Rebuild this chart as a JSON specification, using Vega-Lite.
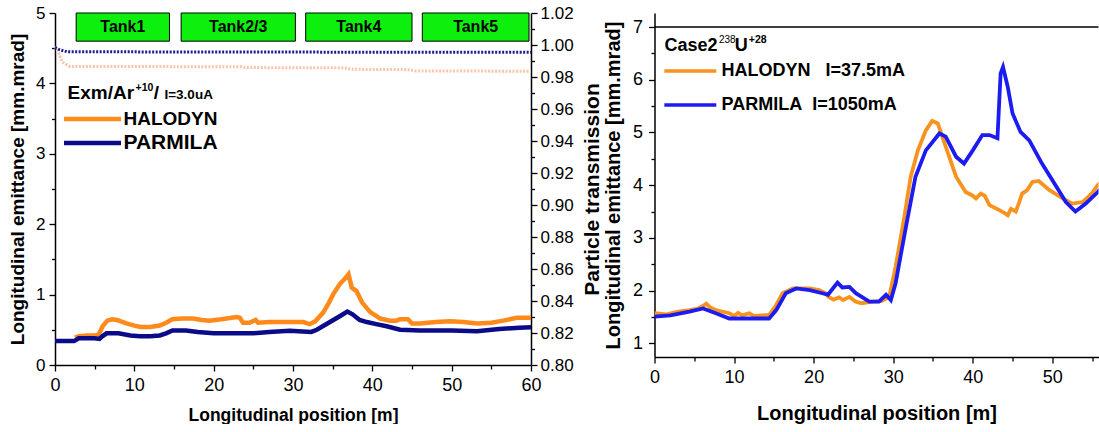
{
  "$schema": "https://vega.github.io/schema/vega-lite/v6.json",
  "background": "white",
  "padding": {"left": 8, "top": 4, "right": 0, "bottom": 0},
  "bounds": "flush",
  "spacing": 123.5,
  "config": {
    "view": {"stroke": null},
    "font": "Liberation Sans",
    "axis": {
      "grid": false, "domainColor": "black", "domainWidth": 1.5, "tickColor": "black", "tickWidth": 1.3,
      "labelColor": "black", "labelFont": "Liberation Sans", "labelFontSize": 17, "labelFlush": false, "labelOverlap": false,
      "titleFont": "Liberation Sans", "titleFontWeight": "bold", "titleColor": "black"
    },
    "text": {"font": "Liberation Sans", "fontWeight": "bold", "color": "black", "align": "left", "baseline": "alphabetic"}
  },
  "resolve": {"scale": {"color": "independent"}, "legend": {"color": "independent"}},
  "hconcat": [
    {
      "width": 476,
      "height": 352,
      "resolve": {"scale": {"y": "independent"}, "axis": {"x": "independent"}},
      "layer": [
        {
          "data": {"values": [
            {"code": "HALODYN", "pos": 0, "trans": 0.999}, {"code": "HALODYN", "pos": 0.4, "trans": 0.996}, {"code": "HALODYN", "pos": 0.9, "trans": 0.9895}, {"code": "HALODYN", "pos": 1.8, "trans": 0.9866}, {"code": "HALODYN", "pos": 23.5, "trans": 0.9864}, {"code": "HALODYN", "pos": 24.0, "trans": 0.9859}, {"code": "HALODYN", "pos": 36.5, "trans": 0.9857}, {"code": "HALODYN", "pos": 37.5, "trans": 0.9848}, {"code": "HALODYN", "pos": 44.5, "trans": 0.9846}, {"code": "HALODYN", "pos": 45.5, "trans": 0.9838}, {"code": "HALODYN", "pos": 60, "trans": 0.9836},
            {"code": "PARMILA", "pos": 0, "trans": 0.9985}, {"code": "PARMILA", "pos": 0.6, "trans": 0.997}, {"code": "PARMILA", "pos": 1.5, "trans": 0.9958}, {"code": "PARMILA", "pos": 20, "trans": 0.9956}, {"code": "PARMILA", "pos": 45, "trans": 0.9955}, {"code": "PARMILA", "pos": 60, "trans": 0.9954}
          ]},
          "mark": {"type": "line", "strokeWidth": 3, "strokeDash": [2, 1.5]},
          "encoding": {
            "x": {"field": "pos", "type": "quantitative", "scale": {"domain": [0, 60], "nice": false}, "axis": null},
            "y": {"field": "trans", "type": "quantitative", "scale": {"domain": [0.8, 1.02], "nice": false, "zero": false},
              "axis": {"orient": "right", "values": [0.8, 0.82, 0.84, 0.86, 0.88, 0.9, 0.92, 0.94, 0.96, 0.98, 1.0, 1.02], "format": ".2f", "tickSize": 6, "labelPadding": 3, "title": "Particle transmission", "titleFontSize": 21, "titleAngle": 270, "titleBaseline": "top", "titlePadding": 8}},
            "stroke": {"field": "code", "type": "nominal", "scale": {"domain": ["HALODYN", "PARMILA"], "range": ["#F9C4AA", "#1C1C8E"]}, "legend": null}
          }
        },
        {
          "data": {"values": [{}]},
          "mark": {"type": "point", "opacity": 0},
          "encoding": {
            "y": {"datum": 0.9, "type": "quantitative", "scale": {"domain": [0.8, 1.02], "nice": false, "zero": false},
              "axis": {"orient": "right", "values": [0.81, 0.83, 0.85, 0.87, 0.89, 0.91, 0.93, 0.95, 0.97, 0.99, 1.01], "labels": false, "domain": false, "title": null, "tickSize": 3.5}}
          }
        },
        {
          "data": {"values": [
            {"code": "HALODYN", "pos": 2.5, "emit": 0.39}, {"code": "HALODYN", "pos": 3.0, "emit": 0.41}, {"code": "HALODYN", "pos": 4.0, "emit": 0.42}, {"code": "HALODYN", "pos": 5.0, "emit": 0.42}, {"code": "HALODYN", "pos": 5.5, "emit": 0.43}, {"code": "HALODYN", "pos": 6.0, "emit": 0.55}, {"code": "HALODYN", "pos": 6.6, "emit": 0.63}, {"code": "HALODYN", "pos": 7.2, "emit": 0.65}, {"code": "HALODYN", "pos": 7.8, "emit": 0.64}, {"code": "HALODYN", "pos": 9.0, "emit": 0.59}, {"code": "HALODYN", "pos": 10.0, "emit": 0.56}, {"code": "HALODYN", "pos": 10.8, "emit": 0.54}, {"code": "HALODYN", "pos": 12.0, "emit": 0.54}, {"code": "HALODYN", "pos": 13.2, "emit": 0.56}, {"code": "HALODYN", "pos": 14.0, "emit": 0.6}, {"code": "HALODYN", "pos": 14.8, "emit": 0.65}, {"code": "HALODYN", "pos": 16.0, "emit": 0.66}, {"code": "HALODYN", "pos": 17.4, "emit": 0.66}, {"code": "HALODYN", "pos": 18.5, "emit": 0.64}, {"code": "HALODYN", "pos": 19.5, "emit": 0.63}, {"code": "HALODYN", "pos": 21.0, "emit": 0.65}, {"code": "HALODYN", "pos": 22.9, "emit": 0.68}, {"code": "HALODYN", "pos": 23.3, "emit": 0.67}, {"code": "HALODYN", "pos": 23.7, "emit": 0.6}, {"code": "HALODYN", "pos": 24.5, "emit": 0.6}, {"code": "HALODYN", "pos": 25.3, "emit": 0.64}, {"code": "HALODYN", "pos": 25.6, "emit": 0.6}, {"code": "HALODYN", "pos": 27.0, "emit": 0.61}, {"code": "HALODYN", "pos": 29.0, "emit": 0.61}, {"code": "HALODYN", "pos": 31.3, "emit": 0.61}, {"code": "HALODYN", "pos": 32.1, "emit": 0.58}, {"code": "HALODYN", "pos": 32.8, "emit": 0.62}, {"code": "HALODYN", "pos": 33.8, "emit": 0.745}, {"code": "HALODYN", "pos": 34.5, "emit": 0.88}, {"code": "HALODYN", "pos": 35.1, "emit": 1.01}, {"code": "HALODYN", "pos": 35.9, "emit": 1.15}, {"code": "HALODYN", "pos": 36.5, "emit": 1.22}, {"code": "HALODYN", "pos": 37.0, "emit": 1.29}, {"code": "HALODYN", "pos": 37.4, "emit": 1.1}, {"code": "HALODYN", "pos": 38.0, "emit": 1.05}, {"code": "HALODYN", "pos": 38.7, "emit": 0.89}, {"code": "HALODYN", "pos": 39.7, "emit": 0.755}, {"code": "HALODYN", "pos": 41.0, "emit": 0.66}, {"code": "HALODYN", "pos": 42.2, "emit": 0.63}, {"code": "HALODYN", "pos": 43.0, "emit": 0.63}, {"code": "HALODYN", "pos": 43.5, "emit": 0.65}, {"code": "HALODYN", "pos": 44.5, "emit": 0.65}, {"code": "HALODYN", "pos": 45.0, "emit": 0.59}, {"code": "HALODYN", "pos": 46.0, "emit": 0.59}, {"code": "HALODYN", "pos": 48.0, "emit": 0.61}, {"code": "HALODYN", "pos": 49.8, "emit": 0.62}, {"code": "HALODYN", "pos": 51.5, "emit": 0.61}, {"code": "HALODYN", "pos": 53.2, "emit": 0.59}, {"code": "HALODYN", "pos": 55.0, "emit": 0.6}, {"code": "HALODYN", "pos": 56.5, "emit": 0.63}, {"code": "HALODYN", "pos": 58.2, "emit": 0.67}, {"code": "HALODYN", "pos": 60.0, "emit": 0.67},
            {"code": "PARMILA", "pos": 0, "emit": 0.34}, {"code": "PARMILA", "pos": 2.4, "emit": 0.34}, {"code": "PARMILA", "pos": 3.0, "emit": 0.38}, {"code": "PARMILA", "pos": 5.0, "emit": 0.38}, {"code": "PARMILA", "pos": 5.6, "emit": 0.37}, {"code": "PARMILA", "pos": 6.0, "emit": 0.41}, {"code": "PARMILA", "pos": 6.5, "emit": 0.45}, {"code": "PARMILA", "pos": 8.0, "emit": 0.45}, {"code": "PARMILA", "pos": 9.5, "emit": 0.42}, {"code": "PARMILA", "pos": 10.7, "emit": 0.41}, {"code": "PARMILA", "pos": 12.0, "emit": 0.41}, {"code": "PARMILA", "pos": 13.2, "emit": 0.42}, {"code": "PARMILA", "pos": 14.0, "emit": 0.45}, {"code": "PARMILA", "pos": 14.8, "emit": 0.49}, {"code": "PARMILA", "pos": 16.5, "emit": 0.49}, {"code": "PARMILA", "pos": 18.0, "emit": 0.47}, {"code": "PARMILA", "pos": 20.0, "emit": 0.45}, {"code": "PARMILA", "pos": 22.0, "emit": 0.45}, {"code": "PARMILA", "pos": 25.0, "emit": 0.45}, {"code": "PARMILA", "pos": 27.0, "emit": 0.47}, {"code": "PARMILA", "pos": 29.6, "emit": 0.485}, {"code": "PARMILA", "pos": 32.3, "emit": 0.47}, {"code": "PARMILA", "pos": 33.0, "emit": 0.5}, {"code": "PARMILA", "pos": 34.5, "emit": 0.6}, {"code": "PARMILA", "pos": 36.0, "emit": 0.7}, {"code": "PARMILA", "pos": 36.85, "emit": 0.76}, {"code": "PARMILA", "pos": 37.5, "emit": 0.72}, {"code": "PARMILA", "pos": 38.4, "emit": 0.64}, {"code": "PARMILA", "pos": 39.3, "emit": 0.61}, {"code": "PARMILA", "pos": 40.5, "emit": 0.58}, {"code": "PARMILA", "pos": 41.8, "emit": 0.55}, {"code": "PARMILA", "pos": 43.5, "emit": 0.5}, {"code": "PARMILA", "pos": 46.0, "emit": 0.49}, {"code": "PARMILA", "pos": 50.0, "emit": 0.49}, {"code": "PARMILA", "pos": 53.2, "emit": 0.48}, {"code": "PARMILA", "pos": 56.0, "emit": 0.51}, {"code": "PARMILA", "pos": 58.5, "emit": 0.53}, {"code": "PARMILA", "pos": 60.0, "emit": 0.535}
          ]},
          "mark": {"type": "line", "strokeWidth": 4.5},
          "encoding": {
            "x": {"field": "pos", "type": "quantitative", "scale": {"domain": [0, 60], "nice": false},
              "axis": {"values": [0, 10, 20, 30, 40, 50, 60], "tickSize": 6, "labelPadding": 5, "labelFontSize": 18, "title": "Longitudinal position [m]", "titleFontSize": 17.5, "titlePadding": 12}},
            "y": {"field": "emit", "type": "quantitative", "scale": {"domain": [0, 5], "nice": false, "zero": false},
              "axis": {"orient": "left", "values": [0, 1, 2, 3, 4, 5], "tickSize": 6, "labelPadding": 4, "title": "Longitudinal emittance [mm.mrad]", "titleFontSize": 19, "titlePadding": 8}},
            "color": {"field": "code", "type": "nominal", "scale": {"domain": ["HALODYN", "PARMILA"], "range": ["#FF8A1C", "#0B0B8A"]},
              "legend": {"orient": "none", "legendX": 6.5, "legendY": 94, "title": null, "padding": 0, "symbolType": "M-1,0H5", "symbolSize": 361, "symbolStrokeWidth": 4.5, "labelOffset": 38, "labelFont": "Liberation Sans", "labelFontWeight": "bold", "labelFontSize": {"expr": "datum.value === 'PARMILA' ? 21 : 19"}, "labelColor": "black", "rowPadding": 2, "labelLimit": 400}}
          }
        },
        {
          "data": {"values": [{}]},
          "mark": {"type": "point", "opacity": 0},
          "encoding": {
            "x": {"datum": 0, "type": "quantitative", "scale": {"domain": [0, 60], "nice": false},
              "axis": {"orient": "bottom", "values": [5, 15, 25, 35, 45, 55], "labels": false, "domain": false, "title": null, "tickSize": 4}},
            "y": {"datum": 0, "type": "quantitative", "scale": {"domain": [0, 5], "nice": false, "zero": false},
              "axis": {"orient": "left", "values": [0.5, 1.5, 2.5, 3.5, 4.5], "labels": false, "domain": false, "title": null, "tickSize": 3.5}}
          }
        },
        {
          "data": {"values": [
            {"tank": "Tank1", "start": 2.67, "end": 14.43},
            {"tank": "Tank2/3", "start": 15.9, "end": 30.3},
            {"tank": "Tank4", "start": 31.6, "end": 45.0},
            {"tank": "Tank5", "start": 46.3, "end": 59.75}
          ]},
          "mark": {"type": "rect", "fill": "#0DF00D", "stroke": "black", "strokeWidth": 1},
          "encoding": {
            "x": {"field": "start", "type": "quantitative", "scale": {"domain": [0, 60], "nice": false}, "axis": null},
            "x2": {"field": "end"},
            "y": {"datum": 4.6, "type": "quantitative", "scale": {"domain": [0, 5], "nice": false, "zero": false}, "axis": null},
            "y2": {"datum": 5.0}
          }
        },
        {
          "data": {"values": [
            {"tank": "Tank1", "start": 2.67, "end": 14.43},
            {"tank": "Tank2/3", "start": 15.9, "end": 30.3},
            {"tank": "Tank4", "start": 31.6, "end": 45.0},
            {"tank": "Tank5", "start": 46.3, "end": 59.75}
          ]},
          "transform": [{"calculate": "(datum.start + datum.end) / 2", "as": "mid"}],
          "mark": {"type": "text", "fontSize": 16, "align": "center", "baseline": "middle"},
          "encoding": {
            "x": {"field": "mid", "type": "quantitative", "scale": {"domain": [0, 60], "nice": false}, "axis": null},
            "y": {"datum": 4.8, "type": "quantitative", "scale": {"domain": [0, 5], "nice": false, "zero": false}, "axis": null},
            "text": {"field": "tank"}
          }
        },
        {
          "data": {"values": [{}]},
          "mark": {"type": "text", "text": "Exm/Ar", "fontSize": 19},
          "encoding": {
            "x": {"datum": 1.58, "type": "quantitative", "scale": {"domain": [0, 60], "nice": false}, "axis": null},
            "y": {"datum": 3.78, "type": "quantitative", "scale": {"domain": [0, 5], "nice": false, "zero": false}, "axis": null}
          }
        },
        {
          "data": {"values": [{}]},
          "mark": {"type": "text", "text": "+10", "fontSize": 10.5, "dy": -8},
          "encoding": {
            "x": {"datum": 10.15, "type": "quantitative", "scale": {"domain": [0, 60], "nice": false}, "axis": null},
            "y": {"datum": 3.78, "type": "quantitative", "scale": {"domain": [0, 5], "nice": false, "zero": false}, "axis": null}
          }
        },
        {
          "data": {"values": [{}]},
          "mark": {"type": "text", "text": "/", "fontSize": 19},
          "encoding": {
            "x": {"datum": 12.45, "type": "quantitative", "scale": {"domain": [0, 60], "nice": false}, "axis": null},
            "y": {"datum": 3.78, "type": "quantitative", "scale": {"domain": [0, 5], "nice": false, "zero": false}, "axis": null}
          }
        },
        {
          "data": {"values": [{}]},
          "mark": {"type": "text", "text": "I=3.0uA", "fontSize": 13.5},
          "encoding": {
            "x": {"datum": 13.8, "type": "quantitative", "scale": {"domain": [0, 60], "nice": false}, "axis": null},
            "y": {"datum": 3.78, "type": "quantitative", "scale": {"domain": [0, 5], "nice": false, "zero": false}, "axis": null}
          }
        }
      ]
    },
    {
      "width": 444,
      "height": 344,
      "resolve": {"axis": {"x": "independent", "y": "independent"}},
      "layer": [
        {
          "data": {"values": [{}]},
          "mark": {"type": "rule", "color": "black", "strokeWidth": 1.5},
          "encoding": {
            "y": {"datum": 7, "type": "quantitative", "scale": {"domain": [0.74, 7.266], "nice": false, "zero": false}, "axis": null}
          }
        },
        {
          "data": {"values": [
            {"code": "HALODYN", "pos": 0, "emit": 1.57}, {"code": "HALODYN", "pos": 1.5, "emit": 1.55}, {"code": "HALODYN", "pos": 3, "emit": 1.6}, {"code": "HALODYN", "pos": 4.4, "emit": 1.63}, {"code": "HALODYN", "pos": 5.5, "emit": 1.66}, {"code": "HALODYN", "pos": 6.2, "emit": 1.72}, {"code": "HALODYN", "pos": 6.5, "emit": 1.75}, {"code": "HALODYN", "pos": 7.0, "emit": 1.68}, {"code": "HALODYN", "pos": 7.7, "emit": 1.63}, {"code": "HALODYN", "pos": 8.5, "emit": 1.6}, {"code": "HALODYN", "pos": 9.4, "emit": 1.57}, {"code": "HALODYN", "pos": 10, "emit": 1.52}, {"code": "HALODYN", "pos": 10.5, "emit": 1.58}, {"code": "HALODYN", "pos": 11, "emit": 1.53}, {"code": "HALODYN", "pos": 11.9, "emit": 1.57}, {"code": "HALODYN", "pos": 12.5, "emit": 1.52}, {"code": "HALODYN", "pos": 13.5, "emit": 1.53}, {"code": "HALODYN", "pos": 14.4, "emit": 1.54}, {"code": "HALODYN", "pos": 15.2, "emit": 1.7}, {"code": "HALODYN", "pos": 16.1, "emit": 1.95}, {"code": "HALODYN", "pos": 17.4, "emit": 2.04}, {"code": "HALODYN", "pos": 19.5, "emit": 2.04}, {"code": "HALODYN", "pos": 20.7, "emit": 2.01}, {"code": "HALODYN", "pos": 21.5, "emit": 1.95}, {"code": "HALODYN", "pos": 21.9, "emit": 1.88}, {"code": "HALODYN", "pos": 22.5, "emit": 1.83}, {"code": "HALODYN", "pos": 23.2, "emit": 1.87}, {"code": "HALODYN", "pos": 23.7, "emit": 1.82}, {"code": "HALODYN", "pos": 24.5, "emit": 1.88}, {"code": "HALODYN", "pos": 25.3, "emit": 1.79}, {"code": "HALODYN", "pos": 26, "emit": 1.76}, {"code": "HALODYN", "pos": 27.4, "emit": 1.79}, {"code": "HALODYN", "pos": 28.5, "emit": 1.8}, {"code": "HALODYN", "pos": 29.5, "emit": 1.88}, {"code": "HALODYN", "pos": 30.3, "emit": 2.45}, {"code": "HALODYN", "pos": 31.4, "emit": 3.4}, {"code": "HALODYN", "pos": 32.2, "emit": 4.16}, {"code": "HALODYN", "pos": 33.1, "emit": 4.66}, {"code": "HALODYN", "pos": 34.1, "emit": 5.04}, {"code": "HALODYN", "pos": 34.9, "emit": 5.22}, {"code": "HALODYN", "pos": 35.6, "emit": 5.17}, {"code": "HALODYN", "pos": 36.6, "emit": 4.73}, {"code": "HALODYN", "pos": 37.9, "emit": 4.16}, {"code": "HALODYN", "pos": 39.1, "emit": 3.87}, {"code": "HALODYN", "pos": 40.0, "emit": 3.8}, {"code": "HALODYN", "pos": 40.4, "emit": 3.75}, {"code": "HALODYN", "pos": 41.0, "emit": 3.84}, {"code": "HALODYN", "pos": 41.5, "emit": 3.8}, {"code": "HALODYN", "pos": 42.1, "emit": 3.62}, {"code": "HALODYN", "pos": 43.3, "emit": 3.53}, {"code": "HALODYN", "pos": 44.0, "emit": 3.47}, {"code": "HALODYN", "pos": 44.4, "emit": 3.43}, {"code": "HALODYN", "pos": 44.8, "emit": 3.55}, {"code": "HALODYN", "pos": 45.4, "emit": 3.5}, {"code": "HALODYN", "pos": 45.8, "emit": 3.66}, {"code": "HALODYN", "pos": 46.2, "emit": 3.84}, {"code": "HALODYN", "pos": 46.8, "emit": 3.9}, {"code": "HALODYN", "pos": 47.5, "emit": 4.06}, {"code": "HALODYN", "pos": 48.3, "emit": 4.08}, {"code": "HALODYN", "pos": 49.6, "emit": 3.91}, {"code": "HALODYN", "pos": 51.3, "emit": 3.75}, {"code": "HALODYN", "pos": 52.5, "emit": 3.65}, {"code": "HALODYN", "pos": 53.8, "emit": 3.68}, {"code": "HALODYN", "pos": 55.0, "emit": 3.85}, {"code": "HALODYN", "pos": 55.7, "emit": 4.0}, {"code": "HALODYN", "pos": 56.5, "emit": 4.1},
            {"code": "PARMILA", "pos": 0, "emit": 1.505}, {"code": "PARMILA", "pos": 2, "emit": 1.53}, {"code": "PARMILA", "pos": 4.4, "emit": 1.6}, {"code": "PARMILA", "pos": 6.1, "emit": 1.66}, {"code": "PARMILA", "pos": 7.7, "emit": 1.57}, {"code": "PARMILA", "pos": 9.4, "emit": 1.47}, {"code": "PARMILA", "pos": 12, "emit": 1.47}, {"code": "PARMILA", "pos": 14.4, "emit": 1.47}, {"code": "PARMILA", "pos": 15.3, "emit": 1.63}, {"code": "PARMILA", "pos": 16.5, "emit": 1.95}, {"code": "PARMILA", "pos": 17.8, "emit": 2.04}, {"code": "PARMILA", "pos": 19.5, "emit": 2.01}, {"code": "PARMILA", "pos": 21.1, "emit": 1.95}, {"code": "PARMILA", "pos": 21.8, "emit": 1.92}, {"code": "PARMILA", "pos": 23.0, "emit": 2.15}, {"code": "PARMILA", "pos": 23.6, "emit": 2.06}, {"code": "PARMILA", "pos": 24.5, "emit": 2.07}, {"code": "PARMILA", "pos": 25.3, "emit": 1.95}, {"code": "PARMILA", "pos": 27.0, "emit": 1.79}, {"code": "PARMILA", "pos": 28.2, "emit": 1.79}, {"code": "PARMILA", "pos": 29.1, "emit": 1.92}, {"code": "PARMILA", "pos": 29.7, "emit": 1.82}, {"code": "PARMILA", "pos": 30.3, "emit": 2.14}, {"code": "PARMILA", "pos": 31.6, "emit": 3.21}, {"code": "PARMILA", "pos": 32.8, "emit": 4.16}, {"code": "PARMILA", "pos": 34.1, "emit": 4.66}, {"code": "PARMILA", "pos": 35.8, "emit": 4.98}, {"code": "PARMILA", "pos": 36.6, "emit": 4.92}, {"code": "PARMILA", "pos": 37.9, "emit": 4.54}, {"code": "PARMILA", "pos": 38.9, "emit": 4.41}, {"code": "PARMILA", "pos": 40.0, "emit": 4.66}, {"code": "PARMILA", "pos": 41.2, "emit": 4.95}, {"code": "PARMILA", "pos": 42.1, "emit": 4.95}, {"code": "PARMILA", "pos": 43.1, "emit": 4.89}, {"code": "PARMILA", "pos": 43.5, "emit": 6.12}, {"code": "PARMILA", "pos": 43.8, "emit": 6.24}, {"code": "PARMILA", "pos": 44.4, "emit": 5.86}, {"code": "PARMILA", "pos": 45.0, "emit": 5.36}, {"code": "PARMILA", "pos": 46.0, "emit": 5.01}, {"code": "PARMILA", "pos": 47.1, "emit": 4.85}, {"code": "PARMILA", "pos": 48.7, "emit": 4.41}, {"code": "PARMILA", "pos": 50.4, "emit": 4.0}, {"code": "PARMILA", "pos": 51.7, "emit": 3.68}, {"code": "PARMILA", "pos": 52.9, "emit": 3.5}, {"code": "PARMILA", "pos": 54.2, "emit": 3.65}, {"code": "PARMILA", "pos": 55.7, "emit": 3.87}, {"code": "PARMILA", "pos": 56.5, "emit": 4.0}
          ]},
          "mark": {"type": "line", "strokeWidth": 3.8, "clip": true},
          "encoding": {
            "x": {"field": "pos", "type": "quantitative", "scale": {"domain": [0, 55.8], "nice": false},
              "axis": {"values": [0, 10, 20, 30, 40, 50], "tickSize": 6, "labelPadding": 5, "labelFontSize": 18, "title": "Longitudinal position [m]", "titleFontSize": 20, "titlePadding": 17}},
            "y": {"field": "emit", "type": "quantitative", "scale": {"domain": [0.74, 7.266], "nice": false, "zero": false},
              "axis": {"orient": "left", "values": [1, 2, 3, 4, 5, 6, 7], "tickSize": 6, "labelPadding": 6, "labelFontSize": 18, "title": "Longitudinal emittance [mm.mrad]", "titleFontSize": 20, "titlePadding": 9}},
            "color": {"field": "code", "type": "nominal", "scale": {"domain": ["HALODYN", "PARMILA"], "range": ["#F7931E", "#1C1CF0"]},
              "legend": {"orient": "none", "legendX": 8, "legendY": 47.5, "title": null, "padding": 0, "symbolType": "M-1,0H5", "symbolSize": 300, "symbolStrokeWidth": 3.5, "labelOffset": 38, "labelFont": "Liberation Sans", "labelFontWeight": "bold", "labelFontSize": 18, "labelColor": "black", "rowPadding": 14, "labelLimit": 400,
                "labelExpr": "datum.label == 'HALODYN' ? 'HALODYN\u00a0\u00a0\u00a0I=37.5mA' : 'PARMILA\u00a0\u00a0I=1050mA'"}}
          }
        },
        {
          "data": {"values": [{}]},
          "mark": {"type": "point", "opacity": 0},
          "encoding": {
            "x": {"datum": 0, "type": "quantitative", "scale": {"domain": [0, 55.8], "nice": false},
              "axis": {"orient": "bottom", "values": [5, 15, 25, 35, 45, 55], "labels": false, "domain": false, "title": null, "tickSize": 4}},
            "y": {"datum": 1, "type": "quantitative", "scale": {"domain": [0.74, 7.266], "nice": false, "zero": false},
              "axis": {"orient": "left", "values": [1.5, 2.5, 3.5, 4.5, 5.5, 6.5], "labels": false, "domain": false, "title": null, "tickSize": 3.5}}
          }
        },
        {
          "data": {"values": [{}]},
          "mark": {"type": "text", "text": "Case2", "fontSize": 18},
          "encoding": {
            "x": {"datum": 1.26, "type": "quantitative", "scale": {"domain": [0, 55.8], "nice": false}, "axis": null},
            "y": {"datum": 6.536, "type": "quantitative", "scale": {"domain": [0.74, 7.266], "nice": false, "zero": false}, "axis": null}
          }
        },
        {
          "data": {"values": [{}]},
          "mark": {"type": "text", "text": "238", "fontSize": 10, "fontWeight": "normal", "dy": -8},
          "encoding": {
            "x": {"datum": 8.1, "type": "quantitative", "scale": {"domain": [0, 55.8], "nice": false}, "axis": null},
            "y": {"datum": 6.536, "type": "quantitative", "scale": {"domain": [0.74, 7.266], "nice": false, "zero": false}, "axis": null}
          }
        },
        {
          "data": {"values": [{}]},
          "mark": {"type": "text", "text": "U", "fontSize": 18},
          "encoding": {
            "x": {"datum": 10.1, "type": "quantitative", "scale": {"domain": [0, 55.8], "nice": false}, "axis": null},
            "y": {"datum": 6.536, "type": "quantitative", "scale": {"domain": [0.74, 7.266], "nice": false, "zero": false}, "axis": null}
          }
        },
        {
          "data": {"values": [{}]},
          "mark": {"type": "text", "text": "+28", "fontSize": 10.5, "dy": -8},
          "encoding": {
            "x": {"datum": 11.85, "type": "quantitative", "scale": {"domain": [0, 55.8], "nice": false}, "axis": null},
            "y": {"datum": 6.536, "type": "quantitative", "scale": {"domain": [0.74, 7.266], "nice": false, "zero": false}, "axis": null}
          }
        }
      ]
    }
  ]
}
